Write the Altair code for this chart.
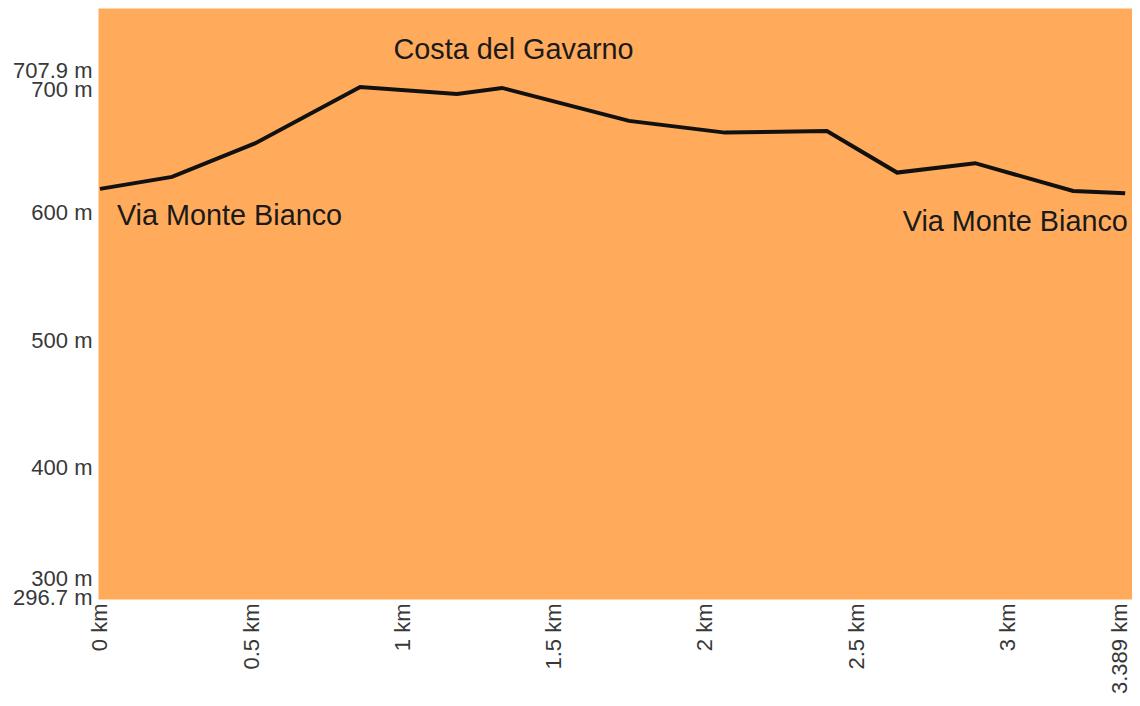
import altair as alt
import pandas as pd

# Elevation profile (distance in km, elevation in m)
dist_km = [0, 0.238, 0.512, 0.860, 1.180, 1.329, 1.749, 2.066, 2.403, 2.635, 2.893, 3.217, 3.389]
elev_m = [618.9, 628.3, 654.6, 699.0, 693.5, 698.2, 672.3, 663.1, 664.4, 631.7, 639.1, 617.3, 615.5]

x_ticks = [0, 0.5, 1, 1.5, 2, 2.5, 3, 3.389]
y_ticks = [296.7, 300, 400, 500, 600, 700, 707.9]

label_text = ["Costa del Gavarno", "Via Monte Bianco", "Via Monte Bianco"]
label_km = [1.367, 0.056, 3.398]
label_elev = [728.0, 597.6, 592.9]
label_align = ["center", "left", "right"]

ORANGE = "#FFAB5B"
FONT = "Liberation Sans"

x_domain = [-0.0066, 3.4116]
y_domain = [296.7, 761]

profile = pd.DataFrame({"km": dist_km, "elev": elev_m})

x_scale = alt.Scale(domain=x_domain, nice=False, zero=False)
y_scale = alt.Scale(domain=y_domain, nice=False, zero=False)

x_axis = alt.Axis(
    values=x_ticks,
    labelExpr="datum.value + ' km'",
    labelAngle=-90,
    ticks=False,
    domain=False,
    grid=False,
    labelOverlap=False,
    labelFlush=False,
    labelPadding=4,
    labelFontSize=22,
    labelColor="#383838",
    labelFont=FONT,
    title=None,
    labelOffset={
        "condition": [{"test": "datum.value === 3.389", "value": -6}],
        "value": 0,
    },
)

y_axis = alt.Axis(
    values=y_ticks,
    labelExpr="datum.value + ' m'",
    ticks=False,
    domain=False,
    grid=False,
    labelOverlap=False,
    labelFlush=False,
    labelPadding=6,
    labelFontSize=22,
    labelColor="#383838",
    labelFont=FONT,
    title=None,
    labelOffset={
        "condition": [
            {"test": "datum.value === 300", "value": -16},
            {"test": "datum.value === 296.7", "value": -2},
            {"test": "datum.value === 700", "value": 4},
            {"test": "datum.value === 707.9", "value": -5},
        ],
        "value": 0,
    },
)

line = alt.Chart(profile).mark_line(color="#111111", strokeWidth=4).encode(
    x=alt.X("km:Q", scale=x_scale, axis=x_axis),
    y=alt.Y("elev:Q", scale=y_scale, axis=y_axis),
)

layers = [line]
for t, k, e, a in zip(label_text, label_km, label_elev, label_align):
    df = pd.DataFrame({"km": [k], "elev": [e], "label": [t]})
    layers.append(
        alt.Chart(df).mark_text(
            align=a, baseline="middle", fontSize=28.8, font=FONT, color="#1a1a1a"
        ).encode(
            x=alt.X("km:Q", scale=x_scale),
            y=alt.Y("elev:Q", scale=y_scale),
            text="label:N",
        )
    )

chart = alt.layer(*layers).properties(
    width=1034,
    height=591,
    autosize=alt.AutoSizeParams(type="none"),
    padding={"left": 90, "top": 0, "right": 0, "bottom": 99},
    background="white",
).configure_view(fill=ORANGE, strokeOpacity=0)

chart.save("out.html", embed_options={"renderer": "svg", "actions": False})
